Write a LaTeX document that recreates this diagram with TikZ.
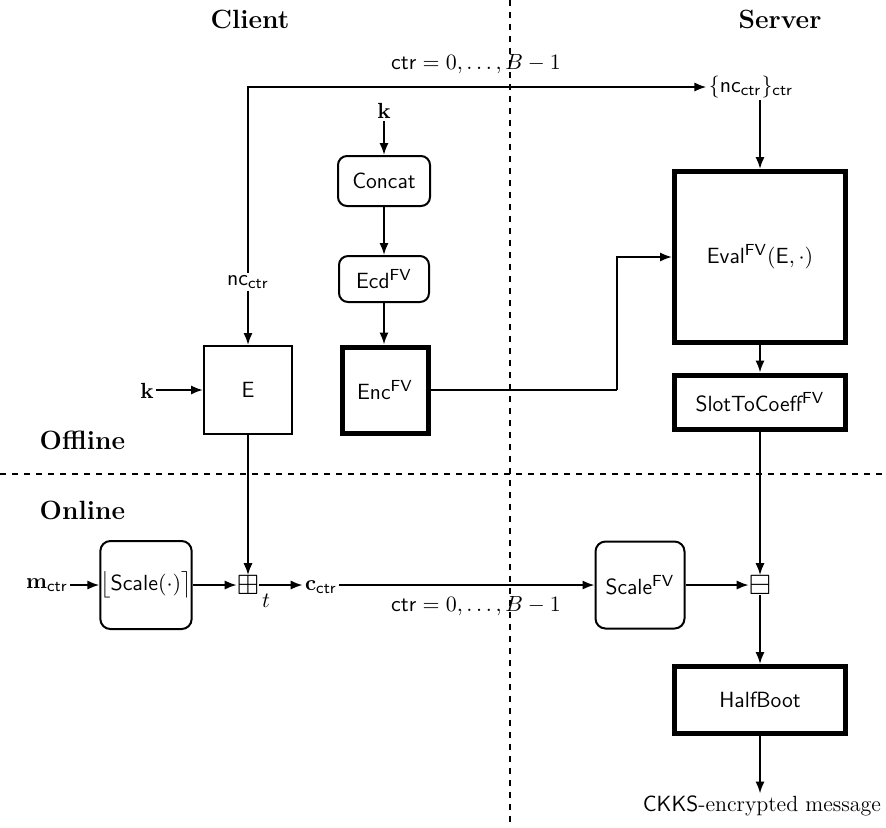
\documentclass[tikz,border=0pt]{standalone}
\usepackage{amsmath,amssymb}
\usetikzlibrary{arrows.meta}
\begin{document}
\fontsize{11}{13.5}\selectfont
\begin{tikzpicture}[x=0.5pt,y=-0.5pt,
  arr/.style={-{Latex[length=6pt,width=4.6pt]}, line width=1pt},
  ln/.style={line width=1pt},
  sqbox/.style={draw, line width=1pt, font=\sffamily, minimum width=44pt, minimum height=44pt, inner sep=1pt},
  thkbox/.style={draw, line width=2.5pt, font=\sffamily, inner sep=1pt},
  rbox/.style={draw, line width=1pt, rounded corners=4.5pt, font=\sffamily, inner sep=1pt},
  hdr/.style={font=\fontsize{13.2}{16}\selectfont\bfseries},
  lbl/.style={inner sep=1pt},
  opsym/.style={inner sep=0pt, font=\fontsize{14}{16}\selectfont},
  sep/.style={dashed, line width=1pt}
]
\useasboundingbox (0,0) rectangle (886,827);
% separators
\draw[sep] (510,0) -- (510,827);
\draw[sep] (0,474) -- (886,474);
% headers
\node[hdr] (client) at (250,19) {Client};
\node[hdr] (server) at (780,19) {Server};
\node[hdr, anchor=west] (offline) at (32,440) {Offline};
\node[hdr, anchor=west] (online) at (32,510) {Online};
% offline client
\node[sqbox] (E) at (248,390) {E};
\node[lbl] (k1) at (147,391) {$\mathbf{k}$};
\node[lbl] (nc) at (248,282) {$\mathsf{nc}_{\mathsf{ctr}}$};
\node[lbl] (k2) at (384,111) {$\mathbf{k}$};
\node[rbox, minimum width=46pt, minimum height=25pt] (concat) at (384,181) {Concat};
\node[rbox, minimum width=45pt, minimum height=23pt] (ecd) at (384,279) {Ecd$^{\mathsf{FV}}$};
\node[thkbox, minimum width=43pt, minimum height=43pt] (enc) at (385,390) {Enc$^{\mathsf{FV}}$};
% server offline
\node[lbl] (ncset) at (751,87) {$\{\mathsf{nc}_{\mathsf{ctr}}\}_{\mathsf{ctr}}$};
\node[lbl] (ctrtop) at (476,64) {$\mathsf{ctr}=0,\ldots,B-1$};
\node[thkbox, minimum width=85.5pt, minimum height=85.5pt] (eval) at (760,257) {Eval$^{\mathsf{FV}}(\mathsf{E},\cdot)$};
\node[thkbox, minimum width=85.5pt, minimum height=27pt] (slot) at (760,402) {SlotToCoeff$^{\mathsf{FV}}$};
\coordinate (bend) at (617,390);
% online
\node[lbl] (m) at (47,585) {$\mathbf{m}_{\mathsf{ctr}}$};
\node[rbox, rounded corners=5pt, minimum width=44pt, minimum height=44pt, inner sep=0pt] (scale) at (146,585) {$\bigl\lfloor\mathsf{Scale}(\cdot)\bigr\rceil$};
\node[opsym] (plus) at (248,585) {$\boxplus$};
\node[lbl] (t) at (266,601) {$t$};
\node[lbl] (c) at (321,587) {$\mathbf{c}_{\mathsf{ctr}}$};
\node[lbl] (ctrbot) at (476,606) {$\mathsf{ctr}=0,\ldots,B-1$};
\node[rbox, rounded corners=5pt, minimum width=44.5pt, minimum height=43.5pt] (scalefv) at (640,585) {Scale$^{\mathsf{FV}}$};
\node[opsym] (minus) at (760,585) {$\boxminus$};
\node[thkbox, minimum width=85.5pt, minimum height=33.5pt] (half) at (760,700) {HalfBoot};
\node[lbl] (ckks) at (762,806) {\textsf{CKKS}-encrypted message};
% connectors
\draw[arr] (nc.north) |- (ncset.west);
\draw[arr] (nc.south) -- (E.north);
\draw[arr] (k1.east |- E.west) -- (E.west);
\draw[arr] (k2.south) -- (concat.north);
\draw[arr] (concat.south) -- (ecd.north);
\draw[arr] (ecd.south) -- (ecd.south |- enc.north);
\draw[ln] (enc.east) -- (bend);
\draw[arr] (bend) |- (eval.west);
\draw[arr] (ncset.south -| eval.north) -- (eval.north);
\draw[arr] (eval.south) -- (slot.north);
\draw[arr] (slot.south) -- (minus.north);
\draw[arr] (m.east |- scale.west) -- (scale.west);
\draw[arr] (scale.east) -- (plus.west);
\draw[arr] (E.south) -- (plus.north);
\draw[arr] (plus.east) -- (plus.east -| c.west);
\draw[arr] (c.east |- scalefv.west) -- (scalefv.west);
\draw[arr] (scalefv.east) -- (minus.west);
\draw[arr] (minus.south) -- (half.north);
\draw[arr] (half.south) -- (half.south |- ckks.north);
\end{tikzpicture}
\end{document}
